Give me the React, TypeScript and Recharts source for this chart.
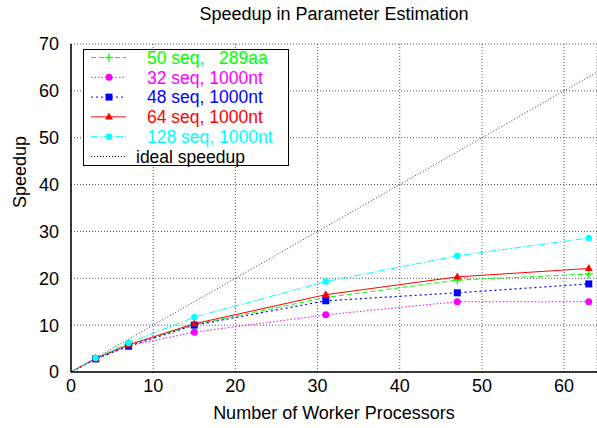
import React from "react";
import { LineChart, Line, XAxis, YAxis, CartesianGrid } from "recharts";

const workers = [0, 3, 7, 15, 31, 47, 63];
const seq50aa = [0, 2.9, 5.8, 10.1, 15.9, 19.6, 20.9];
const seq32nt = [0, 2.9, 5.6, 8.5, 12.2, 15.0, 15.0];
const seq48nt = [0, 2.8, 5.5, 10.0, 15.2, 16.9, 18.8];
const seq64nt = [0, 2.9, 5.8, 10.3, 16.5, 20.3, 22.1];
const seq128nt = [0, 3.0, 6.2, 11.7, 19.3, 24.8, 28.6];
const idealX = [0, 64];

const xTicks = [0, 10, 20, 30, 40, 50, 60];
const yTicks = [0, 10, 20, 30, 40, 50, 60, 70];

const data = workers.map((w, i) => ({
  x: w,
  a: seq50aa[i],
  b: seq32nt[i],
  c: seq48nt[i],
  d: seq64nt[i],
  e: seq128nt[i],
}));
const idealData = idealX.map((v) => ({ x: v, ideal: v }));

type Shape = "plus" | "circle" | "square" | "triangle" | "smallcircle" | "none";

const series: { key: string; name: string; color: string; dash?: string; shape: Shape; width: number }[] = [
  { key: "a", name: "50 seq,   289aa", color: "#00ff00", dash: "5 3", shape: "plus", width: 1 },
  { key: "b", name: "32 seq, 1000nt", color: "#ff00ff", dash: "1.5 2", shape: "circle", width: 1 },
  { key: "c", name: "48 seq, 1000nt", color: "#0000ff", dash: "2 3", shape: "square", width: 1.2 },
  { key: "d", name: "64 seq, 1000nt", color: "#ff0000", dash: undefined, shape: "triangle", width: 1 },
  { key: "e", name: "128 seq, 1000nt", color: "#00ffff", dash: "7 2 1.5 2", shape: "smallcircle", width: 1 },
];

const FONT = "'Liberation Sans', Arial, Helvetica, sans-serif";

function Marker({ shape, color, cx, cy }: { shape: Shape; color: string; cx: number; cy: number }) {
  switch (shape) {
    case "plus":
      return (
        <g stroke={color} strokeWidth={1.3}>
          <line x1={cx - 4} y1={cy} x2={cx + 4} y2={cy} />
          <line x1={cx} y1={cy - 4} x2={cx} y2={cy + 4} />
        </g>
      );
    case "circle":
      return <circle cx={cx} cy={cy} r={3.5} fill={color} />;
    case "smallcircle":
      return <circle cx={cx} cy={cy} r={3.2} fill={color} />;
    case "square":
      return <rect x={cx - 3.5} y={cy - 3.5} width={7} height={7} fill={color} />;
    case "triangle":
      return <polygon points={`${cx},${cy - 4.5} ${cx + 4},${cy + 2.5} ${cx - 4},${cy + 2.5}`} fill={color} />;
    default:
      return null;
  }
}

const makeDot = (shape: Shape, color: string) => (props: any) => {
  const { cx, cy, index, payload } = props;
  if (payload && payload.x === 0) return <g key={`d-${index}`} />;
  return (
    <g key={`d-${index}`}>
      <Marker shape={shape} color={color} cx={cx} cy={cy} />
    </g>
  );
};

function LegendBox() {
  const rows = [...series.map((s) => ({ name: s.name, color: s.color, dash: s.dash, shape: s.shape, textColor: s.color, textX: 147 })),
    { name: "ideal speedup", color: "#000000", dash: "1 2", shape: "none" as Shape, textColor: "#000000", textX: 136 }];
  return (
    <svg width={597} height={428} style={{ position: "absolute", left: 0, top: 0, pointerEvents: "none" }}>
      <rect x={83.5} y={49.5} width={205} height={116} fill="#ffffff" stroke="#000000" strokeWidth={1} />
      {rows.map((r, i) => {
        const y = 57.5 + i * 19.8;
        return (
          <g key={r.name}>
            <line x1={91} y1={y} x2={126} y2={y} stroke={r.color} strokeWidth={1} strokeDasharray={r.dash} />
            <Marker shape={r.shape} color={r.color} cx={109} cy={y} />
            <text x={r.textX} y={y + 6.3} fill={r.textColor} fontSize={17.5} fontFamily={FONT} style={{ whiteSpace: "pre" }}>
              {r.name}
            </text>
          </g>
        );
      })}
    </svg>
  );
}

export default function App() {
  return (
    <div style={{ position: "absolute", left: 0, top: 0, width: 597, height: 428, background: "#ffffff", fontFamily: FONT }}>
      <LineChart width={597} height={428} data={data} margin={{ top: 44, right: 0, bottom: 0, left: 0 }}>
        <CartesianGrid stroke="#555555" strokeDasharray="1 2" strokeWidth={1} vertical horizontal />
        <XAxis
          type="number"
          dataKey="x"
          domain={[0, 64]}
          ticks={xTicks}
          allowDataOverflow
          height={56}
          tickSize={0}
          tickMargin={7}
          axisLine={{ stroke: "#000000", strokeWidth: 1.5 }}
          tick={{ fill: "#000000", fontSize: 18, fontFamily: FONT }}
          label={{ value: "Number of Worker Processors", position: "insideBottom", offset: 9, fill: "#000000", fontSize: 18, fontFamily: FONT }}
        />
        <YAxis
          type="number"
          domain={[0, 70]}
          ticks={yTicks}
          width={71}
          tickSize={0}
          tickMargin={12}
          axisLine={{ stroke: "#000000", strokeWidth: 1.5 }}
          tick={{ fill: "#000000", fontSize: 18, fontFamily: FONT }}
          label={{ value: "Speedup", angle: -90, position: "insideLeft", offset: 20, fill: "#000000", fontSize: 18, fontFamily: FONT }}
        />
        <XAxis xAxisId="top" orientation="top" type="number" dataKey="x" domain={[0, 64]} ticks={xTicks} height={0} tick={false} tickLine={false} axisLine={{ stroke: "#000000", strokeWidth: 1.5 }} />
        <Line
          data={idealData}
          dataKey="ideal"
          stroke="#333333"
          strokeWidth={1}
          strokeDasharray="1 2"
          dot={false}
          isAnimationActive={false}
        />
        {series.map((s) => (
          <Line
            key={s.key}
            dataKey={s.key}
            name={s.name}
            stroke={s.color}
            strokeWidth={s.width}
            strokeDasharray={s.dash}
            dot={makeDot(s.shape, s.color)}
            activeDot={false}
            isAnimationActive={false}
          />
        ))}
      </LineChart>
      <div style={{ position: "absolute", left: 0, top: 4, width: 668, textAlign: "center", fontSize: 18, fontFamily: FONT, color: "#000000" }}>
        Speedup in Parameter Estimation
      </div>
      <LegendBox />
    </div>
  );
}
